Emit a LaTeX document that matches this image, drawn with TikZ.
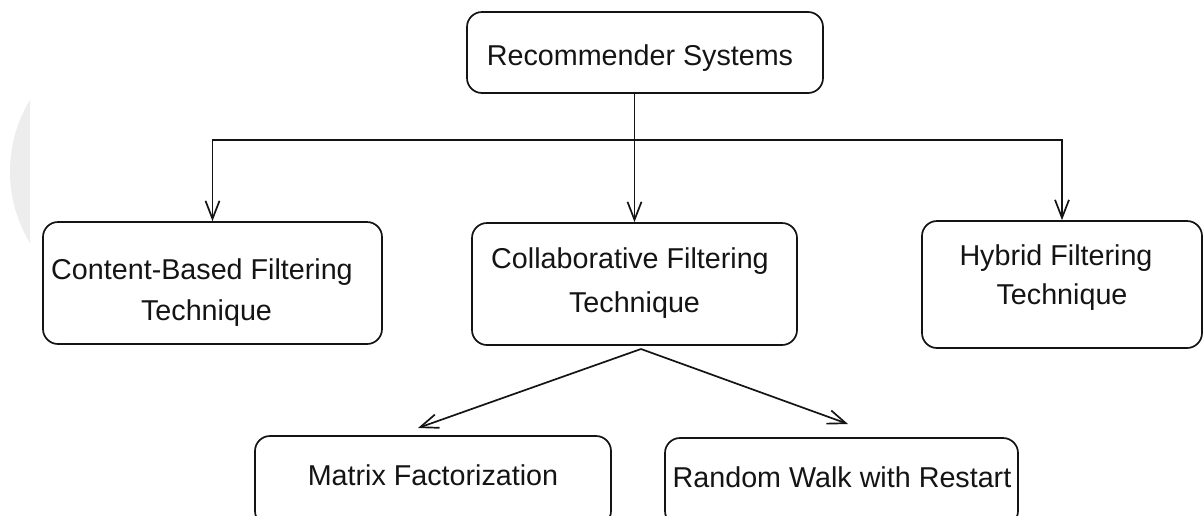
\documentclass[tikz,border=0pt]{standalone}
\usepackage{fontspec}
\setmainfont{Liberation Sans}
\usetikzlibrary{arrows.meta}
\definecolor{ghost}{RGB}{237,237,237}
\definecolor{ink}{RGB}{20,20,20}
\tikzset{
  box/.style={draw=ink, line width=1.7pt, rounded corners=15pt, inner sep=0pt},
  lbl/.style={anchor=base, inner sep=0pt, text=ink, font=\fontsize{28.7}{41}\selectfont},
  conn/.style={draw=ink, line width=1.7pt},
  arr/.style={conn, -{Straight Barb[length=18pt,width=14pt,line width=1.7pt]}}
}
\begin{document}
\begin{tikzpicture}[x=1pt,y=-1pt]
\useasboundingbox (0,0) rectangle (1203,515);
\clip (0,0) rectangle (1203,515);
% faint grey shape at left edge
\begin{scope}
  \clip (0,0) rectangle (30,515);
  \fill[ghost] (148,171.5) circle[radius=138];
\end{scope}
% boxes
\node[box, minimum width=356pt, minimum height=81pt] (top) at (645,52.5) {};
\node[box, minimum width=339pt, minimum height=122pt] (cb) at (212.5,283) {};
\node[box, minimum width=325pt, minimum height=122pt] (co) at (634.5,284) {};
\node[box, minimum width=280pt, minimum height=127pt] (hy) at (1062,284.5) {};
\node[box, minimum width=356pt, minimum height=90pt] (mf) at (433,481) {};
\node[box, minimum width=353pt, minimum height=88pt] (rw) at (841.5,482) {};
% labels
\node[lbl] (topt) at (640,65) {Recommender Systems};
\node[lbl] (cbt1) at (202,279) {Content-Based Filtering};
\node[lbl] (cbt2) at (206.5,320) {Technique};
\node[lbl] (cot1) at (630,268) {Collaborative Filtering};
\node[lbl] (cot2) at (634.5,312) {Technique};
\node[lbl] (hyt1) at (1056,265) {Hybrid Filtering};
\node[lbl] (hyt2) at (1062,304) {Technique};
\node[lbl] (mft) at (433,485) {Matrix Factorization};
\node[lbl] (rwt) at (842,487) {Random Walk with Restart};
% connectors
\coordinate (j) at (co.north |- 0,140);
\draw[arr] (top.south -| co.north) -- (co.north);
\draw[arr] (j) -| (cb.north);
\draw[arr] (j) -| (hy.north);
\coordinate (ap) at (641,349);
\coordinate (mfa) at (418,428);
\coordinate (rwa) at (848,424);
\draw[arr] (ap) -- (mfa);
\draw[arr] (ap) -- (rwa);
\end{tikzpicture}
\end{document}
